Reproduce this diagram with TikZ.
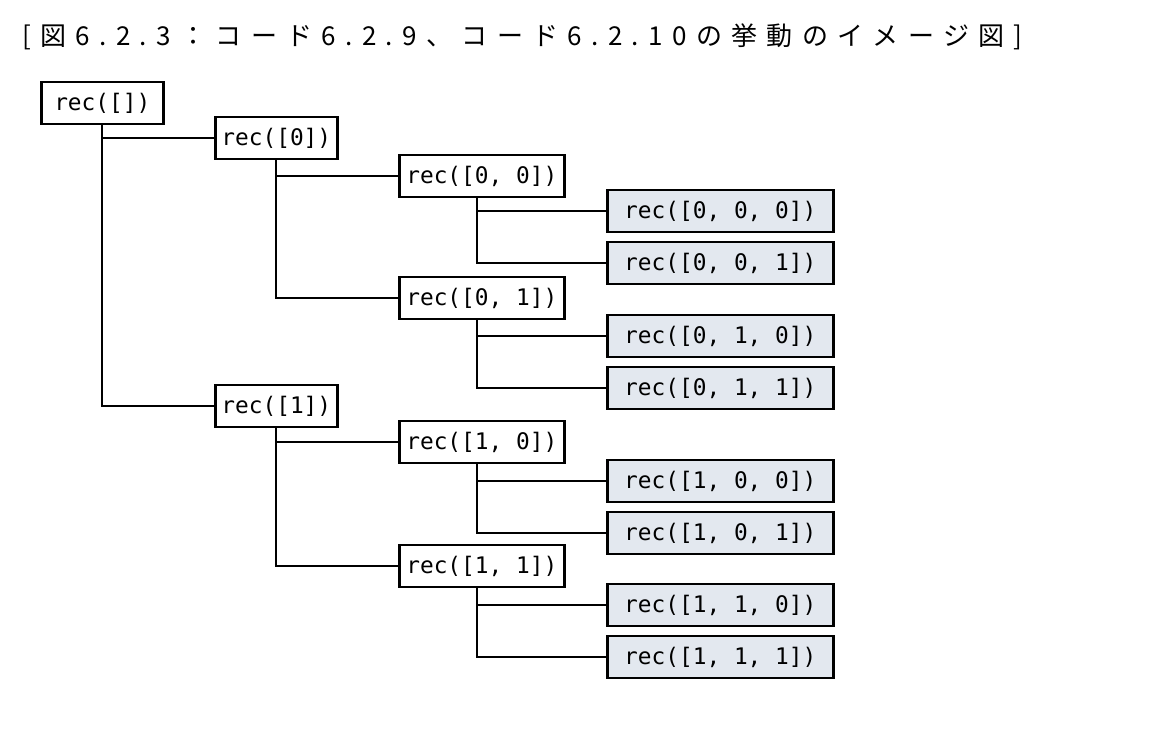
\documentclass[tikz,border=0pt]{standalone}
\usepackage{fontspec}
\newfontfamily\codefont{DejaVu Sans Mono}
\newfontfamily\jpfont[LetterSpace=36]{Noto Sans CJK JP}
\definecolor{leafblue}{HTML}{E3E8EF}
\begin{document}
\begin{tikzpicture}[x=0.5pt,y=-0.5pt,
    every node/.style={draw,line width=1.3pt,inner sep=0pt,
      minimum height=21pt,anchor=west,
      font=\codefont\fontsize{11.4}{13}\selectfont},
    lv1/.style={minimum width=61pt},
    lv2/.style={minimum width=82.5pt},
    leaf/.style={minimum width=113pt,fill=leafblue},
    link/.style={line width=1pt}]
  \useasboundingbox (0,0) rectangle (1168,730);
  \node[draw=none,font=\jpfont\fontsize{13}{15}\selectfont] (title) at (21,37)
    {[図6.2.3：コード6.2.9、コード6.2.10の挙動のイメージ図]};
  % call tree
  \node[lv1] (r) at (40,103) {rec([])};
  \node[lv1] (r0) at (214,138) {rec([0])};
  \node[lv2] (r00) at (398,176) {rec([0, 0])};
  \node[leaf] (r000) at (606,211) {rec([0, 0, 0])};
  \node[leaf] (r001) at (606,263) {rec([0, 0, 1])};
  \node[lv2] (r01) at (398,298) {rec([0, 1])};
  \node[leaf] (r010) at (606,336) {rec([0, 1, 0])};
  \node[leaf] (r011) at (606,388) {rec([0, 1, 1])};
  \node[lv1] (r1) at (214,406) {rec([1])};
  \node[lv2] (r10) at (398,442) {rec([1, 0])};
  \node[leaf] (r100) at (606,481) {rec([1, 0, 0])};
  \node[leaf] (r101) at (606,533) {rec([1, 0, 1])};
  \node[lv2] (r11) at (398,566) {rec([1, 1])};
  \node[leaf] (r110) at (606,605) {rec([1, 1, 0])};
  \node[leaf] (r111) at (606,657) {rec([1, 1, 1])};
  % connectors
  \foreach \p/\a/\b in {r/r0/r1,r0/r00/r01,r1/r10/r11}
    \draw[link] (\p.south) |- (\a.west) (\p.south) |- (\b.west);
  \foreach \p/\a/\b in {r00/r000/r001,r01/r010/r011,r10/r100/r101,r11/r110/r111}
    \draw[link] ([xshift=-2.5pt]\p.south) |- (\a.west)
      ([xshift=-2.5pt]\p.south) |- (\b.west);
\end{tikzpicture}
\end{document}
